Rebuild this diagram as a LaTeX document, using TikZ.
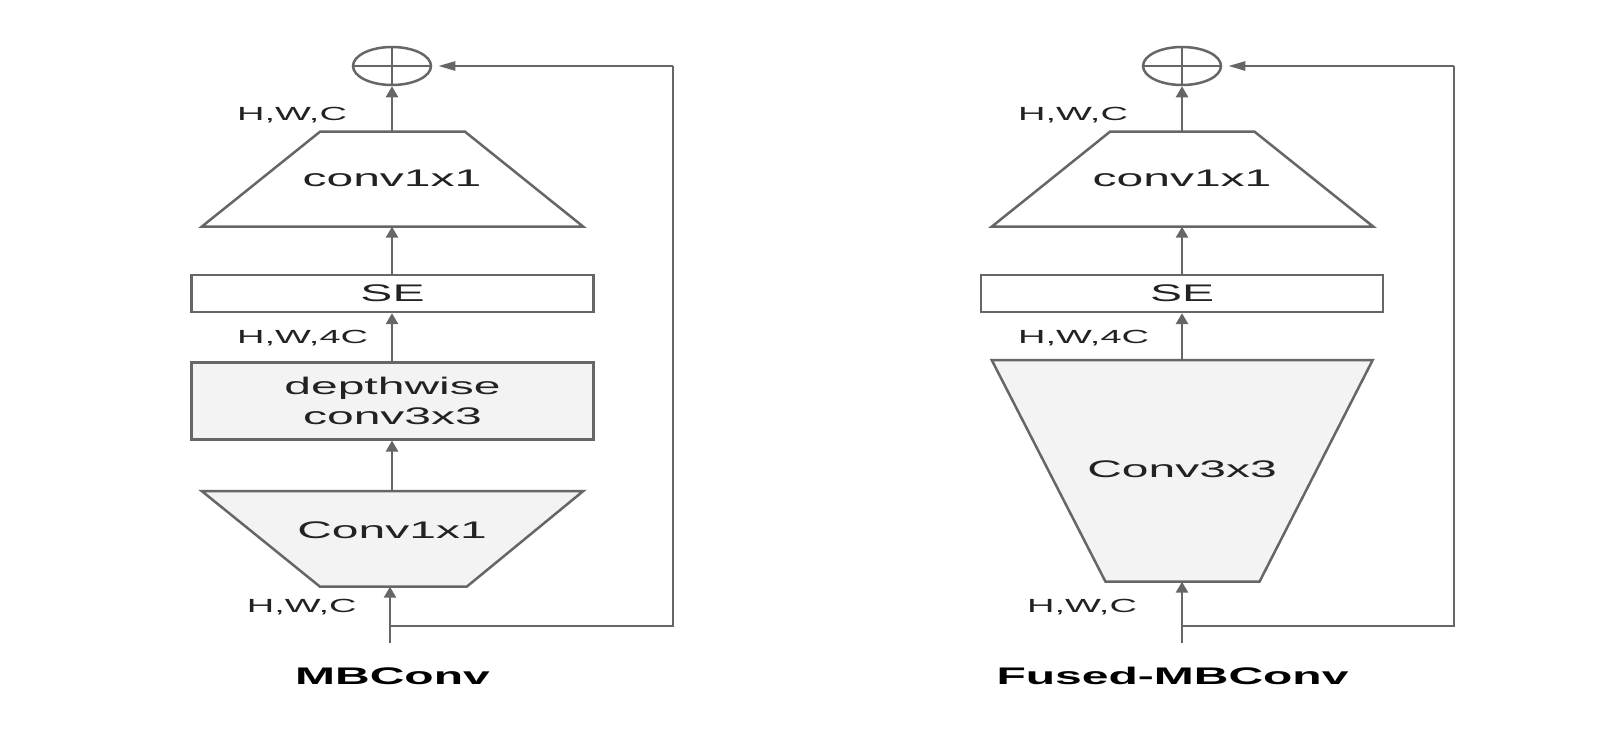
\documentclass[tikz,border=0pt]{standalone}
\usepackage{fontspec}
\newfontfamily\wide[FakeStretch=2.0]{Liberation Sans}
\usetikzlibrary{arrows.meta,shapes.geometric}
\definecolor{linegray}{HTML}{666666}
\definecolor{boxfill}{HTML}{F3F3F3}
\definecolor{txt}{HTML}{222222}
\tikzset{
  conn/.style={draw=linegray, line width=2.5pt},
  vup/.style={conn, -{Triangle[length=11pt,width=12pt]}},
  hleft/.style={conn, -{Triangle[length=17pt,width=9pt]}},
  shapebox/.style={draw=linegray, line width=2.5pt},
  maintext/.style={text=txt, font=\wide\fontsize{24}{30}\selectfont, inner sep=0pt, align=center},
  dimlabel/.style={text=txt, font=\wide\fontsize{19}{22}\selectfont, inner sep=0pt, anchor=base west},
  titletext/.style={text=black, font=\wide\bfseries\fontsize{24}{28}\selectfont, inner sep=0pt, anchor=base},
  plusnode/.style={ellipse, draw=linegray, line width=2.5pt, minimum width=78pt, minimum height=38pt, inner sep=0pt},
  rectbox/.style={draw=linegray, line width=2.5pt, minimum width=402pt, inner sep=0pt, text=txt, font=\wide\fontsize{24}{30}\selectfont, align=center}
}
\begin{document}
\begin{tikzpicture}[x=1pt,y=-1pt]
\useasboundingbox[fill=white] (0,0) rectangle (1616,736);

% ================= MBConv (left) =================
\node[plusnode] (plusL) at (392,66) {};
\draw[conn] (plusL.north) -- (plusL.south);
\draw[conn] (plusL.west) -- (plusL.east);

\draw[shapebox, fill=white] (320,131.7) -- (465,131.7) -- (583.3,226.7) -- (201.7,226.7) -- cycle;
\coordinate (upL-top) at (392,131.7);
\coordinate (upL-bot) at (392,226.7);
\node[maintext] (upL) at (392,178) {conv1x1};

\node[rectbox, minimum height=37pt] (seL) at (392.5,293.4) {SE};
\node[rectbox, minimum height=76.6pt, fill=boxfill] (dwL) at (392.5,401) {depthwise\\conv3x3};

\draw[shapebox, fill=boxfill] (201.7,491) -- (583.3,491) -- (466.7,586.7) -- (320,586.7) -- cycle;
\coordinate (expL-top) at (392,491);
\coordinate (expL-bot) at (390,586.7);
\node[maintext] (expL) at (392,530) {Conv1x1};

\coordinate (inL) at (390,643);
\coordinate (skipL1) at (390,626);
\coordinate (skipL2) at (673,626);
\coordinate (skipL3) at (673,66);

\draw[vup] (upL-top) -- (plusL.south);
\draw[vup] (seL.north -| upL-bot) -- (upL-bot);
\draw[vup] (dwL.north -| upL-bot) -- (seL.south -| upL-bot);
\draw[vup] (expL-top) -- (dwL.south -| expL-top);
\draw[vup] (inL) -- (expL-bot);
\draw[conn] (skipL1) -- (skipL2) -- (skipL3);
\draw[hleft] (skipL3) -- ([xshift=6pt]plusL.east);

\node[dimlabel] (lblL1) at (237,120) {H,W,C};
\node[dimlabel] (lblL2) at (237,343) {H,W,4C};
\node[dimlabel] (lblL3) at (246.7,612) {H,W,C};
\node[titletext] (titleL) at (392.5,684) {MBConv};

% ================= Fused-MBConv (right) =================
\node[plusnode] (plusR) at (1182,66) {};
\draw[conn] (plusR.north) -- (plusR.south);
\draw[conn] (plusR.west) -- (plusR.east);

\draw[shapebox, fill=white] (1110,131.7) -- (1254.5,131.7) -- (1373.3,226.7) -- (991.7,226.7) -- cycle;
\coordinate (upR-top) at (1182,131.7);
\coordinate (upR-bot) at (1182,226.7);
\node[maintext] (upR) at (1182,178) {conv1x1};

\node[rectbox, minimum height=37pt] (seR) at (1182,293.4) {SE};

\draw[shapebox, fill=boxfill] (991.7,360) -- (1372.7,360) -- (1259.5,581.7) -- (1105.5,581.7) -- cycle;
\coordinate (fuR-top) at (1182,360);
\coordinate (fuR-bot) at (1182,581.7);
\node[maintext] (fuR) at (1182,469) {Conv3x3};

\coordinate (inR) at (1182,643);
\coordinate (skipR1) at (1182,626);
\coordinate (skipR2) at (1454,626);
\coordinate (skipR3) at (1454,66);

\draw[vup] (upR-top) -- (plusR.south);
\draw[vup] (seR.north -| upR-bot) -- (upR-bot);
\draw[vup] (fuR-top) -- (seR.south -| fuR-top);
\draw[vup] (inR) -- (fuR-bot);
\draw[conn] (skipR1) -- (skipR2) -- (skipR3);
\draw[hleft] (skipR3) -- ([xshift=6pt]plusR.east);

\node[dimlabel] (lblR1) at (1018,120) {H,W,C};
\node[dimlabel] (lblR2) at (1018,343) {H,W,4C};
\node[dimlabel] (lblR3) at (1027,612) {H,W,C};
\node[titletext] (titleR) at (1172.5,684) {Fused-MBConv};
\end{tikzpicture}
\end{document}
